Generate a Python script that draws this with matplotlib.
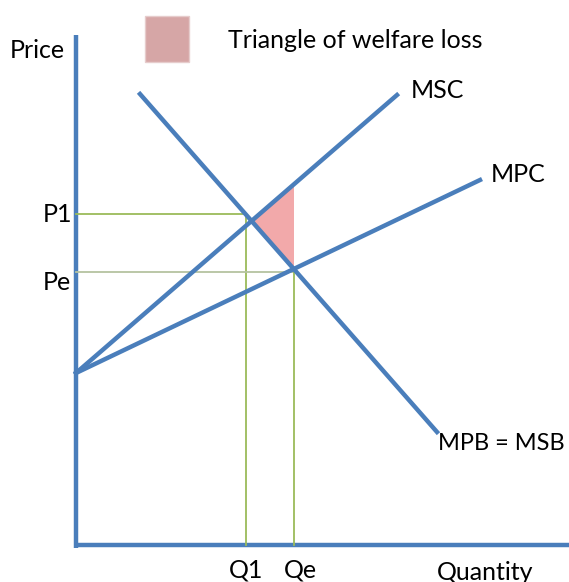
import numpy as np
import matplotlib.pyplot as plt

# curves (quantity, price) end points, origin at the axes corner
msc_q = [0, 321]
msc_p = [172, 450]
mpc_q = [0, 404]
mpc_p = [172, 365]
mpb_q = [64, 361]
mpb_p = [451, 113]

# market outcome and social optimum
q1, p1 = 170, 331
qe, pe = 218, 273

# welfare loss triangle
tri_q = [175, 218, 218]
tri_p = [324, 361, 275]

blue = '#4a7ebb'
green = '#9bbb59'
pink = '#f2a9aa'

plt.rcParams['font.family'] = ['Lato', 'DejaVu Sans']

fig = plt.figure(figsize=(5.69, 5.82), dpi=100)
ax = fig.add_axes([0, 0, 1, 1])
ax.set_xlim(-76, 493)
ax.set_ylim(-37, 545)
ax.axis('off')

# axes
ax.plot([0, 0], [-3, 510], color=blue, lw=3.2, solid_capstyle='butt')
ax.plot([0, 493], [0, 0], color=blue, lw=3.2, solid_capstyle='butt')

# welfare loss
ax.fill(tri_q, tri_p, color=pink, lw=0, zorder=1)

# guide lines
ax.plot([0, q1, q1], [p1, p1, 0], color=green, lw=1.3, zorder=2)
ax.plot([0, qe], [pe, pe], color='#b5c3a0', lw=1.3, zorder=2)
ax.plot([qe, qe], [pe, 0], color=green, lw=1.3, zorder=2)

# curves
ax.plot(msc_q, msc_p, color=blue, lw=3.2, zorder=3)
ax.plot(mpc_q, mpc_p, color=blue, lw=3.2, zorder=3)
ax.plot(mpb_q, mpb_p, color=blue, lw=3.2, zorder=3)

fs = 18
ax.text(-66, 495, 'Price', fontsize=fs, va='center')
ax.text(-33, 331, 'P1', fontsize=fs, va='center')
ax.text(-33, 263, 'Pe', fontsize=fs, va='center')
ax.text(335, 455, 'MSC', fontsize=fs, va='center')
ax.text(415, 371, 'MPC', fontsize=fs, va='center')
ax.text(362, 101, 'MPB = MSB', fontsize=17, va='center')
ax.text(q1 - 17, -25, 'Q1', fontsize=fs, va='center')
ax.text(qe - 10, -25, 'Qe', fontsize=fs, va='center')
ax.text(361, -27, 'Quantity', fontsize=fs, va='center')

# legend swatch
ax.add_patch(plt.Rectangle((69, 483), 44, 46, facecolor='#d6a6a6',
                           edgecolor='#e6cccc', lw=1))
ax.text(152, 505, 'Triangle of welfare loss', fontsize=fs, va='center')

fig.savefig('out.png', dpi=100)
